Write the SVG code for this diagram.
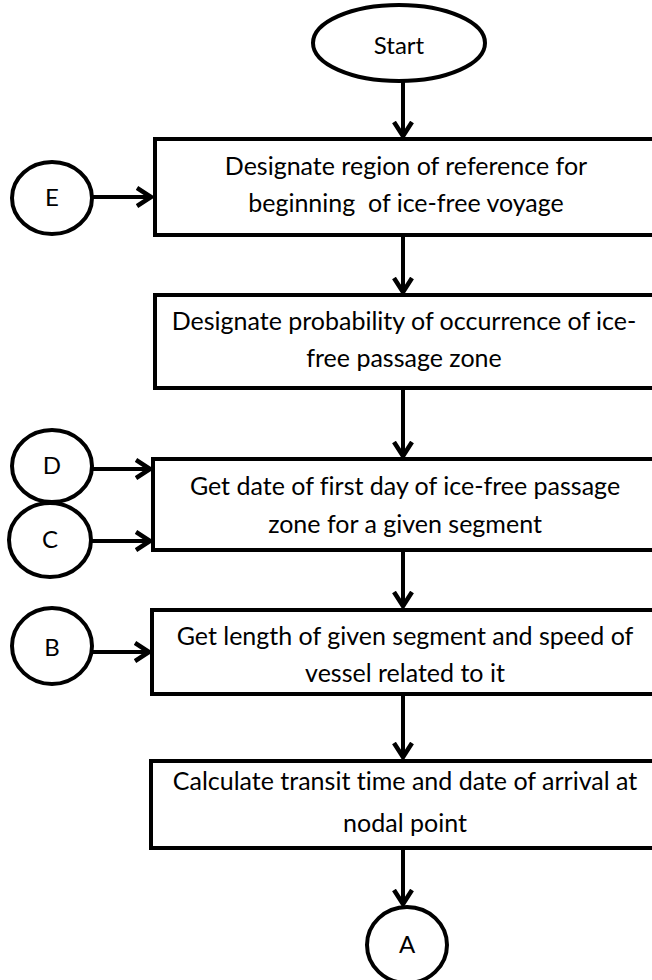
<svg xmlns="http://www.w3.org/2000/svg" width="652" height="980" viewBox="0 0 652 980">
<defs>
<marker id="arr" markerUnits="userSpaceOnUse" markerWidth="30" markerHeight="30" viewBox="-15 -15 30 30" refX="0" refY="0" orient="auto">
<path d="M-14,-9 L0,0 L-14,9" fill="none" stroke="#000" stroke-width="4.5" stroke-linejoin="miter"/>
</marker>
</defs>
<style>
.box{fill:#fff;stroke:#000;stroke-width:4}
.term{fill:#fff;stroke:#000;stroke-width:4}
.t{font-family:Lato,"Open Sans","Liberation Sans",sans-serif;font-size:25px;fill:#000;text-anchor:middle;font-variant-ligatures:none}
.c{font-family:Lato,"Open Sans","Liberation Sans",sans-serif;font-size:24px;fill:#000;text-anchor:middle}
.edge{fill:none;stroke:#000;stroke-width:4;marker-end:url(#arr)}
</style>
<rect width="652" height="980" fill="#fff"/>
<g id="connectors">
<line class="edge" x1="403" y1="81" x2="403" y2="136"/>
<line class="edge" x1="403" y1="237" x2="403" y2="292"/>
<line class="edge" x1="403" y1="390" x2="403" y2="456"/>
<line class="edge" x1="403" y1="552" x2="403" y2="606"/>
<line class="edge" x1="403" y1="695" x2="403" y2="757"/>
<line class="edge" x1="403" y1="850" x2="403" y2="904"/>
<line class="edge" x1="92" y1="197" x2="151" y2="197"/>
<line class="edge" x1="92" y1="469" x2="150" y2="469"/>
<line class="edge" x1="91" y1="541" x2="150" y2="541"/>
<line class="edge" x1="93" y1="652" x2="149" y2="652"/>
</g>
<g id="start">
<ellipse class="term" cx="399" cy="43" rx="86" ry="38"/>
<text class="c" x="399" y="54">Start</text>
</g>
<g id="box1">
<rect class="box" x="155" y="139" width="505" height="96"/>
<text class="t" x="406" y="175">Designate region of reference for</text>
<text class="t" x="406" y="212" xml:space="preserve">beginning  of ice-free voyage</text>
</g>
<g id="box2">
<rect class="box" x="155" y="295" width="505" height="93"/>
<text class="t" x="404" y="330">Designate probability of occurrence of ice-</text>
<text class="t" x="404" y="367">free passage zone</text>
</g>
<g id="box3">
<rect class="box" x="153" y="459" width="507" height="91"/>
<text class="t" x="405" y="495">Get date of first day of ice-free passage</text>
<text class="t" x="405" y="533">zone for a given segment</text>
</g>
<g id="box4">
<rect class="box" x="152" y="610" width="508" height="84"/>
<text class="t" x="405" y="645">Get length of given segment and speed of</text>
<text class="t" x="405" y="682">vessel related to it</text>
</g>
<g id="box5">
<rect class="box" x="151" y="761" width="509" height="87"/>
<text class="t" x="405" y="790">Calculate transit time and date of arrival at</text>
<text class="t" x="405" y="832">nodal point</text>
</g>
<g id="nodeE">
<ellipse class="term" cx="52" cy="198" rx="40" ry="36"/>
<text class="c" x="52" y="206">E</text>
</g>
<g id="nodeD">
<ellipse class="term" cx="52" cy="466" rx="40" ry="36"/>
<text class="c" x="52" y="474">D</text>
</g>
<g id="nodeC">
<ellipse class="term" cx="50" cy="540" rx="41" ry="37"/>
<text class="c" x="50" y="548">C</text>
</g>
<g id="nodeB">
<ellipse class="term" cx="52" cy="646" rx="40" ry="38"/>
<text class="c" x="52" y="656">B</text>
</g>
<g id="nodeA">
<ellipse class="term" cx="407" cy="945" rx="40" ry="38"/>
<text class="c" x="407" y="953">A</text>
</g>
</svg>
